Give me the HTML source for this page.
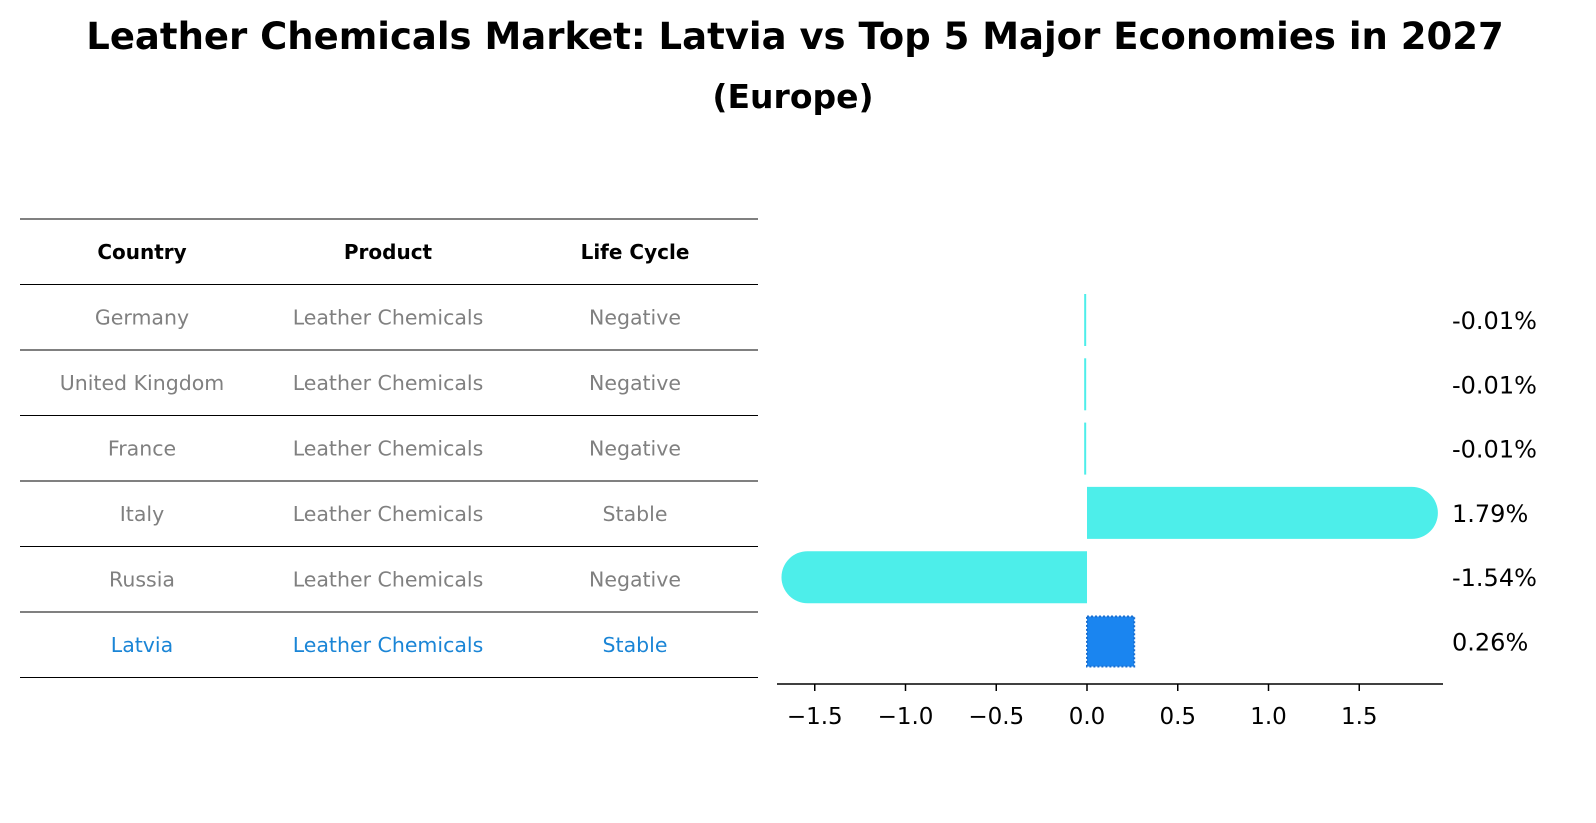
<!DOCTYPE html>
<html><head><meta charset="utf-8"><style>
body{margin:0;background:#fff;font-family:"Liberation Sans","DejaVu Sans",sans-serif;}
#wrap{position:relative;width:1596px;height:823px;overflow:hidden}
</style></head><body>
<div id="wrap">
<svg id="svg" width="1596" height="823" xmlns="http://www.w3.org/2000/svg">
<text x="795" y="49" text-anchor="middle" font-size="37" font-weight="bold" font-family="DejaVu Sans, sans-serif">Leather Chemicals Market: Latvia vs Top 5 Major Economies in 2027</text>
<text x="793" y="108" text-anchor="middle" font-size="33" font-weight="bold" font-family="DejaVu Sans, sans-serif">(Europe)</text>
<g id="table"></g>
<g id="bars"></g>
</svg>
</div>
<script>
const countries=["Germany","United Kingdom","France","Italy","Russia","Latvia"];
const products=["Leather Chemicals","Leather Chemicals","Leather Chemicals","Leather Chemicals","Leather Chemicals","Leather Chemicals"];
const lifeCycles=["Negative","Negative","Negative","Stable","Negative","Stable"];
const growth=[-0.01,-0.01,-0.01,1.79,-1.54,0.26];
const valueLabels=["-0.01%","-0.01%","-0.01%","1.79%","-1.54%","0.26%"];
const ticks=[-1.5,-1.0,-0.5,0.0,0.5,1.0,1.5];
const tickLabels=["\u22121.5","\u22121.0","\u22120.5","0.0","0.5","1.0","1.5"];

const NS="http://www.w3.org/2000/svg";
function mk(t,a,p){const e=document.createElementNS(NS,t);for(const k in a)e.setAttribute(k,a[k]);p.appendChild(e);return e;}
const tbl=document.getElementById('table');
const colX=[142,388,635];
const rowH=65.5, tableTop=219;
for(let i=0;i<=countries.length+1;i++){
  const l=mk('line',{x1:20,x2:758,y1:tableTop+i*rowH,y2:tableTop+i*rowH,stroke:'#000','stroke-width':1},tbl);
  
  
}
["Country","Product","Life Cycle"].forEach((h,j)=>{
  const t=mk('text',{x:colX[j],y:tableTop+rowH/2+7,'text-anchor':'middle','font-size':20,'font-weight':'bold','font-family':'DejaVu Sans, sans-serif'},tbl);
  t.textContent=h;
  
  
});
countries.forEach((c,i)=>{
  const y=tableTop+(i+1)*rowH+rowH/2+7;
  const col=c==="Latvia"?"#1a85d6":"#808080";
  [c,products[i],lifeCycles[i]].forEach((v,j)=>{
    const t=mk('text',{x:colX[j],y:y,'text-anchor':'middle','font-size':20.5,fill:col,'font-family':'DejaVu Sans, sans-serif'},tbl);
    t.textContent=v;
    
    
  });
});
const g=document.getElementById('bars');
const x0=1087, scale=181.5;
const X=v=>x0+v*scale;
const Y=i=>320+i*64.3;
const bh=52;
growth.forEach((v,i)=>{
  const y=Y(i);
  const isL=countries[i]==="Latvia";
  const w=Math.abs(X(v)-X(0));
  const xs=Math.min(X(0),X(v));
  let e;
  if(isL){
    e=mk('rect',{x:xs,y:y-bh/2+1,width:w,height:bh-2,fill:'#1a85f0',stroke:'#1a6fd0','stroke-width':2,'stroke-dasharray':'2,2'},g);
  }else if(Math.abs(v)>0.3){
    const r=bh/2;
    let d;
    if(v>0) d=`M${xs},${y-r} H${xs+w} A${r},${r} 0 0 1 ${xs+w},${y+r} H${xs} Z`;
    else d=`M${xs+w},${y-r} H${xs} A${r},${r} 0 0 0 ${xs},${y+r} H${xs+w} Z`;
    e=mk('path',{d:d,fill:'#4deeea'},g);
  } else {
    e=mk('rect',{x:xs-1,y:y-bh/2,width:Math.max(w,2),height:bh,fill:'#4deeea'},g);
  }
  
  
  const t=mk('text',{x:1452,y:y+9,'font-size':24,'font-family':'DejaVu Sans, sans-serif'},g);
  t.textContent=valueLabels[i];
  
  
});
const ax=mk('line',{x1:777,x2:1443,y1:684,y2:684,stroke:'#000','stroke-width':1.5},g);


ticks.forEach((v,i)=>{
  const tk=mk('line',{x1:X(v),x2:X(v),y1:684,y2:691,stroke:'#000','stroke-width':1.5},g);
  
  
  const t=mk('text',{x:X(v),y:724,'text-anchor':'middle','font-size':23,'font-family':'DejaVu Sans, sans-serif'},g);
  t.textContent=tickLabels[i];
  
  
});
</script>
</body></html>
